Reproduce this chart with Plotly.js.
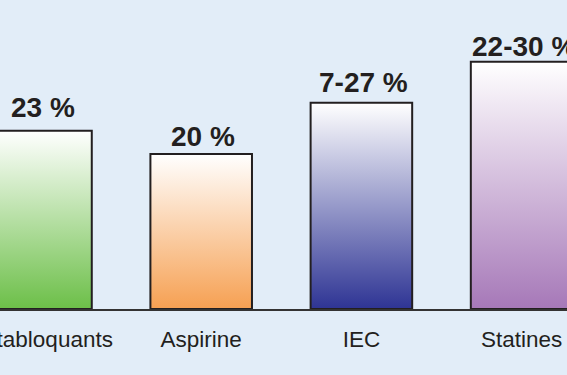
<!DOCTYPE html>
<html>
<head>
<meta charset="utf-8">
<script src="https://cdn.plot.ly/plotly-3.0.1.min.js"></script>
<style>
  html, body { margin: 0; padding: 0; background: #e2edf8; }
  #chart { width: 567px; height: 375px; }
</style>
</head>
<body>
<div id="chart"></div>
<script>
// ---- data ----
const categories = ["Bêtabloquants", "Aspirine", "IEC", "Statines"];
const values = [23, 20, 26.6, 31.9];
const valueLabels = ["23 %", "20 %", "7-27 %", "22-30 %"];

// ---- styles ----
const topColor = "#ffffff";
const bottomColors = ["#6cbf48", "#f6a052", "#2e3494", "#a678b8"];
const labelLift = [6, 0, 3, -2];
const bg = "#e2edf8";
const ink = "#231f20";
const fontFamily = "'Liberation Sans', Arial, Helvetica, sans-serif";

const idx = categories.map((_, i) => i);

const trace = {
  type: "bar",
  x: idx,
  y: values,
  width: 0.634,
  marker: { color: bottomColors, line: { color: ink, width: 2 } },
  hoverinfo: "none"
};

const annotations = idx.map(i => ({
  x: i, y: values[i], xref: "x", yref: "y",
  text: "<b>" + valueLabels[i] + "</b>",
  showarrow: false, yanchor: "bottom", xanchor: "center",
  yshift: labelLift[i], xshift: 2,
  font: { family: fontFamily, size: 28, color: ink }
}));

const layout = {
  width: 567, height: 375,
  margin: { l: 0, r: 0, t: 0, b: 66, pad: 0 },
  paper_bgcolor: bg, plot_bgcolor: bg,
  showlegend: false,
  xaxis: {
    range: [-0.2559, 3.2834],
    tickmode: "array", tickvals: idx, ticktext: categories,
    ticks: "", showgrid: false, zeroline: false,
    showline: true, linecolor: "#333333", linewidth: 2,
    ticklabeloverflow: "allow", automargin: false,
    ticklabelstandoff: 9,
    tickfont: { family: fontFamily, size: 22.5, color: ink }
  },
  yaxis: {
    range: [0, 309 / 7.75],
    visible: false, showgrid: false, zeroline: false, automargin: false
  },
  annotations: annotations
};

Plotly.newPlot("chart", [trace], layout, { staticPlot: true, displayModeBar: false }).then(gd => {
  const svg = gd.querySelector("svg.main-svg");
  const ns = "http://www.w3.org/2000/svg";
  const defs = document.createElementNS(ns, "defs");
  bottomColors.forEach((c, i) => {
    const g = document.createElementNS(ns, "linearGradient");
    g.setAttribute("id", "barGrad" + i);
    g.setAttribute("x1", "0"); g.setAttribute("y1", "0");
    g.setAttribute("x2", "0"); g.setAttribute("y2", "1");
    const s1 = document.createElementNS(ns, "stop");
    s1.setAttribute("offset", "0"); s1.setAttribute("stop-color", topColor);
    const s2 = document.createElementNS(ns, "stop");
    s2.setAttribute("offset", "1"); s2.setAttribute("stop-color", c);
    g.appendChild(s1); g.appendChild(s2);
    defs.appendChild(g);
  });
  svg.insertBefore(defs, svg.firstChild);
  const paths = gd.querySelectorAll("g.trace.bars g.point path");
  paths.forEach((p, i) => { p.style.fill = "url(#barGrad" + i + ")"; });
});
</script>
</body>
</html>
